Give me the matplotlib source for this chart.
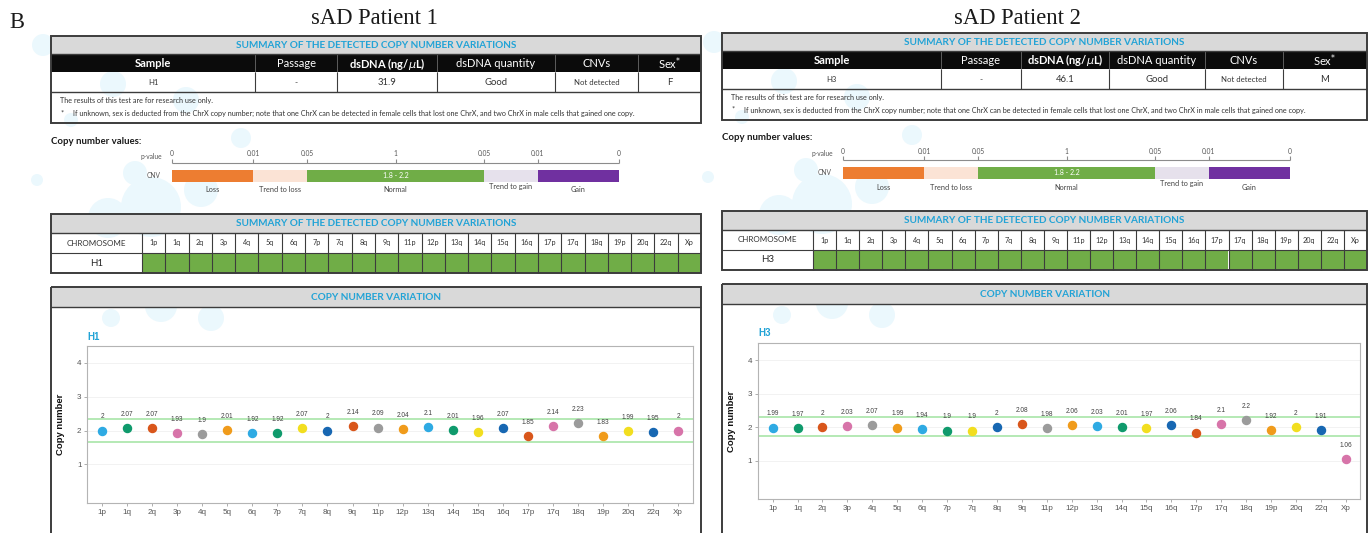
import matplotlib
matplotlib.use('Agg')
import matplotlib.pyplot as plt
from matplotlib.patches import Rectangle, Circle

# ---- data -------------------------------------------------------------
chromosome_arms = ['1p', '1q', '2q', '3p', '4q', '5q', '6q', '7p', '7q', '8q', '9q', '11p',
                   '12p', '13q', '14q', '15q', '16q', '17p', '17q', '18q', '19p', '20q', '22q', 'Xp']

copy_number_h1 = [2, 2.07, 2.07, 1.93, 1.9, 2.01, 1.92, 1.92, 2.07, 2, 2.14, 2.09,
                  2.04, 2.1, 2.01, 1.96, 2.07, 1.85, 2.14, 2.23, 1.83, 1.99, 1.95, 2]
copy_number_h3 = [1.99, 1.97, 2, 2.03, 2.07, 1.99, 1.94, 1.9, 1.9, 2, 2.08, 1.98,
                  2.06, 2.03, 2.01, 1.97, 2.06, 1.84, 2.1, 2.2, 1.92, 2, 1.91, 1.06]

# detection band drawn around the normal copy number
band_h1 = [1.65, 2.34]
band_h3 = [1.73, 2.30]

summary_columns = ['Sample', 'Passage', 'dsDNA (ng/$\\mu$L)', 'dsDNA quantity', 'CNVs', 'Sex$^{*}$']
summary_h1 = ['H1', '-', '31.9', 'Good', 'Not detected', 'F']
summary_h3 = ['H3', '-', '46.1', 'Good', 'Not detected', 'M']

pvalue_ticks = ['0', '0.01', '0.05', '1', '0.05', '0.01', '0']
cnv_classes = ['Loss', 'Trend to loss', 'Normal', 'Trend to gain', 'Gain']
normal_range = '1.8 - 2.2'

patients = ['sAD Patient 1', 'sAD Patient 2']

# ---- style ------------------------------------------------------------
W, H = 1372, 533
REPORT_FONT = 'Lato'
PLOT_FONT = 'Liberation Sans'
SERIF = 'Liberation Serif'
CYAN = '#22a3d6'
BORDER = '#3c3c3c'
HEADER_GRAY = '#d9d9d9'
CELL_GREEN = '#70ad47'
BUBBLE = '#ebf8fd'

class_colors = ['#ed7d31', '#fbe3d5', '#70ad47', '#e6e1ec', '#7030a0']
class_edges = [0, 0.181, 0.302, 0.698, 0.818, 1.0]
tick_pos = [0, 0.181, 0.302, 0.5, 0.698, 0.818, 1.0]

arm_colors = ['#2eaae3', '#0f9a6c', '#d9561b', '#d774a9', '#9b9b9b', '#f09b1b',
              '#2eaae3', '#0f9a6c', '#f2de1f', '#1767b2', '#d9561b', '#9b9b9b',
              '#f09b1b', '#2eaae3', '#0f9a6c', '#f2de1f', '#1767b2', '#d9561b',
              '#d774a9', '#9b9b9b', '#f09b1b', '#f2de1f', '#1767b2', '#d774a9']

fig = plt.figure(figsize=(W / 100, H / 100), dpi=100)
canvas = fig.add_axes([0, 0, 1, 1])
canvas.set_xlim(0, W)
canvas.set_ylim(H, 0)
canvas.axis('off')


def box(x0, y0, x1, y1, fc='none', ec=BORDER, lw=1.2, z=2):
    canvas.add_patch(Rectangle((x0, y0), x1 - x0, y1 - y0, facecolor=fc,
                               edgecolor=ec, linewidth=lw, zorder=z))


def hline(x0, x1, y, color=BORDER, lw=1.0, z=3):
    canvas.plot([x0, x1], [y, y], color=color, lw=lw, zorder=z, solid_capstyle='butt')


def vline(x, y0, y1, color=BORDER, lw=1.0, z=3):
    canvas.plot([x, x], [y0, y1], color=color, lw=lw, zorder=z, solid_capstyle='butt')


def label(x, y, s, size, color='#262626', weight='normal', ha='center', family=REPORT_FONT, **kw):
    canvas.text(x, y, s, fontsize=size, color=color, fontweight=weight, ha=ha,
                va='center', family=family, zorder=6, **kw)


def draw_bubbles(x0, dy):
    spots = [(-8, 45, 11), (30, 57, 8), (62, 50, 6), (62, 84, 13), (135, 100, 13),
             (84, 173, 12), (100, 207, 30), (57, 218, 20), (150, 190, 17), (190, 138, 10),
             (110, 306, 16), (160, 318, 13), (60, 318, 9), (-14, 180, 6), (20, 120, 7)]
    for cx, cy, r in spots:
        canvas.add_patch(Circle((x0 + cx, cy + dy), r, color=BUBBLE, zorder=0.5, lw=0))


def draw_report(x0, x1, dy, col_edges, row, sample, title_x, title):
    label(title_x, 19, title, 16.3, color='#1a1a1a', family=SERIF)

    # sample summary table
    top = 36 + dy
    box(x0, top, x1, top + 18, fc=HEADER_GRAY, lw=0, z=1)
    box(x0, top + 18, x1, top + 36, fc='#0b0b0b', lw=0, z=1)
    label((x0 + x1) / 2, top + 9.5, 'SUMMARY OF THE DETECTED COPY NUMBER VARIATIONS', 7.2,
          color=CYAN, weight='bold')
    sizes = [5.6, 6, 6.8, 6.8, 5.6, 6.8]
    for i, name in enumerate(summary_columns):
        cx = (col_edges[i] + col_edges[i + 1]) / 2
        bold = 'bold' if i in (0, 2) else 'normal'
        label(cx, top + 27.5, name, 8.0, color='white', weight=bold)
        label(cx, top + 46.5, row[i], sizes[i], color='#333333')
    for xe in col_edges[1:-1]:
        vline(xe, top + 18, top + 36, color='#6a6a6a', lw=0.6)
        vline(xe, top + 36, top + 56, lw=0.8)
    hline(x0, x1, top + 18, lw=1.0)
    hline(x0, x1, top + 56, lw=1.0)
    box(x0, top, x1, top + 87, lw=1.4)
    label(x0 + 9, top + 64.5, 'The results of this test are for research use only.', 5.2,
          ha='left', color='#333333')
    label(x0 + 10, top + 76.5, '*', 5.4, ha='left', color='#333333')
    label(x0 + 22, top + 77, 'If unknown, sex is deducted from the ChrX copy number; note that one '
          'ChrX can be detected in female cells that lost one ChrX, and two ChrX in male cells '
          'that gained one copy.', 5.2, ha='left', color='#333333')

    # copy number legend with p-value scale
    label(x0, 141 + dy, 'Copy number values:', 6.9, weight='bold', ha='left', color='#1a1a1a')
    sx, sw = x0 + 121, 447
    ay = 162.5 + dy
    hline(sx, sx + sw, ay, color='#8c8c8c', lw=0.8)
    for t, p in zip(pvalue_ticks, tick_pos):
        vline(sx + p * sw, ay - 3.5, ay, color='#8c8c8c', lw=0.8)
        label(sx + p * sw, ay - 8.5, t, 4.8, color='#555555')
    label(sx - 10, ay - 6, 'p-value', 4.8, ha='right', color='#555555')
    label(sx - 11, 175.5 + dy, 'CNV', 4.8, ha='right', color='#555555')
    for k, (name, col) in enumerate(zip(cnv_classes, class_colors)):
        a, b = sx + class_edges[k] * sw, sx + class_edges[k + 1] * sw
        canvas.add_patch(Rectangle((a, 170 + dy), b - a, 11.5, facecolor=col, lw=0, zorder=2))
        ly = 186.5 if name == 'Trend to gain' else 190
        label((a + b) / 2, ly + dy, name, 5.3, color='#444444')
    mid = sx + (class_edges[2] + class_edges[3]) / 2 * sw
    label(mid, 175.8 + dy, normal_range, 5.0, color='white')

    # per-arm call table
    ct = 214 + dy
    split = x0 + 91
    box(x0, ct, x1, ct + 19, fc=HEADER_GRAY, lw=0, z=1)
    label((x0 + x1) / 2, ct + 9.5, 'SUMMARY OF THE DETECTED COPY NUMBER VARIATIONS', 7.2,
          color=CYAN, weight='bold')
    cw = (x1 - split) / len(chromosome_arms)
    for j, arm in enumerate(chromosome_arms):
        cx = split + cw * j
        box(cx, ct + 39, cx + cw, ct + 59, fc=CELL_GREEN, lw=0, z=1)
        label(cx + cw / 2, ct + 29, arm, 5.2, color='#333333')
        vline(cx, ct + 19, ct + 59, lw=0.8)
    label((x0 + split) / 2, ct + 29, 'CHROMOSOME', 5.8, color='#333333')
    label((x0 + split) / 2, ct + 49, sample, 7.0, color='#262626')
    hline(x0, x1, ct + 19, lw=1.0)
    hline(x0, x1, ct + 39, lw=0.8)
    box(x0, ct, x1, ct + 59, lw=1.4)

    # copy number plot frame
    pt = 287.3 + dy
    box(x0, pt, x1, pt + 20, fc=HEADER_GRAY, lw=0, z=1)
    hline(x0, x1, pt + 20, lw=1.0)
    box(x0, pt, x1, H + 20, lw=1.4)
    label((x0 + x1) / 2, pt + 10, 'COPY NUMBER VARIATION', 7.2, color=CYAN, weight='bold')
    label(x0 + 36, 336.5 + dy, sample, 7.0, color=CYAN, weight='bold', ha='left', family=PLOT_FONT)


def draw_copy_numbers(rect_px, values, band, sample):
    l, t, r, b = rect_px
    ax = fig.add_axes([l / W, 1 - b / H, (r - l) / W, (b - t) / H])
    x = list(range(len(chromosome_arms)))
    ax.set_xlim(-0.6, len(chromosome_arms) - 0.43)
    ax.set_ylim(-0.15, 4.5)
    for g in [1, 2, 3, 4]:
        ax.axhline(g, color='#f0f0f0', lw=0.6, zorder=0)
    for level in band:
        ax.axhline(level, color='#b4e9b4', lw=1.4, zorder=1)
    for xi, v, c in zip(x, values, arm_colors):
        ax.errorbar(xi, v, yerr=0.05, fmt='o', ms=5.8, color=c, mec=c, elinewidth=1.1,
                    capsize=0, zorder=3)
        ax.annotate(f'{v:g}', (xi, v), xytext=(0, 9.8), textcoords='offset points',
                    ha='center', va='center', fontsize=4.7, color='#404040', family=PLOT_FONT)
    ax.set_xticks(x)
    ax.set_xticklabels(chromosome_arms)
    ax.set_yticks([1, 2, 3, 4])
    ax.tick_params(length=2, width=0.6, color='#a0a0a0', labelsize=5.8, labelcolor='#555555', pad=2)
    for lab in ax.get_xticklabels() + ax.get_yticklabels():
        lab.set_family(PLOT_FONT)
    for sp in ax.spines.values():
        sp.set_color('#b4b4b4')
        sp.set_linewidth(0.8)
    ax.set_ylabel('Copy number', fontsize=6.8, fontweight='bold', family=PLOT_FONT, color='#111111')
    ax.yaxis.set_label_coords(-0.036, 0.5)
    return ax


label(17, 22, 'B', 16.3, color='#1a1a1a', family=SERIF)

draw_bubbles(51, 0)
draw_bubbles(722, -3)

draw_report(51, 701, 0, [51, 255, 337, 437, 555, 638, 701], summary_h1, 'H1', 374, patients[0])
draw_report(722, 1367, -3, [722, 941, 1021, 1109, 1205, 1283, 1367], summary_h3, 'H3', 1017, patients[1])

draw_copy_numbers((87, 346, 692.5, 503.3), copy_number_h1, band_h1, 'H1')
draw_copy_numbers((757.7, 343.3, 1360, 499.3), copy_number_h3, band_h3, 'H3')

fig.savefig('out.png', dpi=100)
